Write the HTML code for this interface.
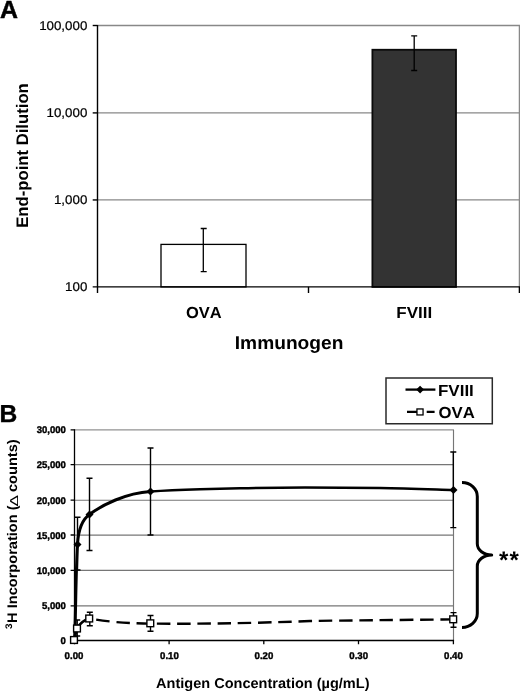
<!DOCTYPE html>
<html>
<head>
<meta charset="utf-8">
<title>Figure</title>
<style>
html,body{margin:0;padding:0;background:#fff;}
body{width:520px;height:691px;overflow:hidden;}
svg{display:block;}
text{font-family:"Liberation Sans",Arial,sans-serif;fill:#000;font-kerning:none;text-rendering:geometricPrecision;}
.b{font-weight:bold;}
</style>
</head>
<body>
<svg width="520" height="691" viewBox="0 0 520 691">
<rect x="0" y="0" width="520" height="691" fill="#ffffff"/>

<!-- ================= Panel A ================= -->
<text class="b" x="-0.1" y="17.9" font-size="24.9" stroke="#000" stroke-width="0.5">A</text>

<!-- grid / frame -->
<g stroke="#888888" stroke-width="1.3" fill="none">
  <line x1="97.5" y1="25.5" x2="520" y2="25.5"/>
  <line x1="97.5" y1="112.9" x2="520" y2="112.9"/>
  <line x1="97.5" y1="199.95" x2="520" y2="199.95"/>
  <line x1="519.4" y1="25.5" x2="519.4" y2="287"/>
</g>
<!-- bars -->
<rect x="161" y="244.4" width="85" height="42.5" fill="#ffffff" stroke="#000" stroke-width="1.3"/>
<rect x="372.4" y="49.75" width="83.6" height="237.2" fill="#333333" stroke="#0a0a0a" stroke-width="1.8"/>
<!-- axes -->
<g stroke="#000" stroke-width="1.4" fill="none">
  <line x1="97.5" y1="24.9" x2="97.5" y2="293"/>
  <line x1="92.7" y1="286.9" x2="520" y2="286.9"/>
  <line x1="92.7" y1="25.5" x2="97.5" y2="25.5"/>
  <line x1="92.7" y1="112.9" x2="97.5" y2="112.9"/>
  <line x1="92.7" y1="199.95" x2="97.5" y2="199.95"/>
  <line x1="308.5" y1="286.9" x2="308.5" y2="293"/>
  <line x1="519.4" y1="286.9" x2="519.4" y2="293"/>
</g>
<!-- error bars -->
<g stroke="#000" stroke-width="1.3" fill="none">
  <path d="M203.3 228.5V271.7M200.7 228.5H206.7M200.7 271.7H206.7"/>
  <path d="M414.2 35.8V70.5M411.2 35.8H417.2M411.2 70.5H417.2"/>
</g>
<!-- tick labels -->
<g font-size="12.7" text-anchor="end" stroke="#000" stroke-width="0.22">
  <text transform="translate(87.3 29.6) scale(1.05 1)">100,000</text>
  <text transform="translate(87.3 116.8) scale(1.05 1)">10,000</text>
  <text transform="translate(87.3 204) scale(1.05 1)">1,000</text>
  <text transform="translate(87.3 291) scale(1.05 1)">100</text>
</g>
<text class="b" font-size="16" text-anchor="middle" transform="translate(203.8 318.2) scale(1.03 1)">OVA</text>
<text class="b" font-size="16" text-anchor="middle" transform="translate(414.2 318.2) scale(1.06 1)">FVIII</text>
<text class="b" font-size="18.5" text-anchor="middle" transform="translate(289.1 349.3) scale(1.036 1)">Immunogen</text>
<text class="b" font-size="16.7" text-anchor="middle" transform="translate(27.9 155.5) rotate(-90)">End-point Dilution</text>

<!-- ================= Panel B ================= -->
<text class="b" x="-0.6" y="421.6" font-size="24.6" stroke="#000" stroke-width="0.4">B</text>

<!-- legend -->
<rect x="386" y="378" width="106.3" height="45.75" fill="#fff" stroke="#2a2a2a" stroke-width="1.5"/>
<line x1="405.5" y1="389.6" x2="435.4" y2="389.6" stroke="#000" stroke-width="2.3"/>
<path d="M420.1 385.7L424 389.6L420.1 393.5L416.2 389.6Z" fill="#000"/>
<path d="M407 411.8H417M426.7 411.8H434.6" stroke="#000" stroke-width="2.2"/>
<rect x="416.95" y="408.95" width="6.1" height="6" fill="#fff" stroke="#000" stroke-width="1.3"/>
<text class="b" font-size="16" transform="translate(438 395.6) scale(1.06 1)">FVIII</text>
<text class="b" font-size="16" transform="translate(438.6 417.6) scale(1.045 1)">OVA</text>

<!-- grid -->
<g stroke="#767676" stroke-width="1.15" fill="none">
  <line x1="74.5" y1="429.9" x2="454" y2="429.9" stroke-width="1.4" stroke="#929292"/>
  <line x1="74.5" y1="464.6" x2="454" y2="464.6"/>
  <line x1="74.5" y1="500.2" x2="454" y2="500.2"/>
  <line x1="74.5" y1="535.15" x2="454" y2="535.15"/>
  <line x1="74.5" y1="570.3" x2="454" y2="570.3"/>
  <line x1="74.5" y1="605.9" x2="454" y2="605.9"/>
  <line x1="453.5" y1="430" x2="453.5" y2="640"/>
</g>
<!-- axes -->
<g stroke="#000" stroke-width="1.3" fill="none">
  <line x1="74.5" y1="429.2" x2="74.5" y2="644.3"/>
  <line x1="70.6" y1="640.5" x2="454.1" y2="640.5"/>
  <path d="M70.6 429.9H74.5M70.6 464.6H74.5M70.6 500.2H74.5M70.6 535H74.5M70.6 570.3H74.5M70.6 605.9H74.5"/>
  <path d="M169.1 640.5V644.3M263.8 640.5V644.3M358.5 640.5V644.3M453.4 640.5V644.3"/>
</g>

<!-- FVIII error bars -->
<g stroke="#000" stroke-width="1.4" fill="none">
  <path d="M77.5 517.3V570M74.5 517.3H80.5M74.5 570H80.5"/>
  <path d="M89.5 478.2V550.5M86.5 478.2H92.5M86.5 550.5H92.5"/>
  <path d="M150.5 448V535M147.5 448H153.5M147.5 535H153.5"/>
  <path d="M453.3 452V527.6M450.3 452H456.3M450.3 527.6H456.3"/>
</g>
<!-- OVA error bars -->
<g stroke="#000" stroke-width="1.4" fill="none">
  <path d="M77.2 620V636M74.2 620H80.2M74.2 636H80.2"/>
  <path d="M89.8 612.2V625.8M86.8 612.2H92.8M86.8 625.8H92.8"/>
  <path d="M150.5 615.5V631.2M147.5 615.5H153.5M147.5 631.2H153.5"/>
  <path d="M453.5 612.6V627.3M450.5 612.6H456.5M450.5 627.3H456.5"/>
</g>

<!-- FVIII curve -->
<path d="M74.6 640 C75 630 75.4 620 75.7 600 C76.1 580 76.6 560 77.5 544.5 C78.4 528 82.2 519.5 89.5 514.5 C102 505 126 493 150.5 491.5" fill="none" stroke="#000" stroke-width="3" stroke-linejoin="round"/>
<path d="M150.5 491.5 C168 490.4 185 489.8 200 489.3 C215 488.8 228 488.5 240 488.3 C262 487.8 280 487.5 305 487.5 C335 487.5 360 487.7 380 488 C405 488.4 430 489.3 453.5 490" fill="none" stroke="#000" stroke-width="2.4" stroke-linejoin="round"/>
<g fill="#000">
  <path d="M77.5 540.5L81.5 544.5L77.5 548.5L73.5 544.5Z"/>
  <path d="M89.5 510.5L93.5 514.5L89.5 518.5L85.5 514.5Z"/>
  <path d="M150.5 487.5L154.5 491.5L150.5 495.5L146.5 491.5Z"/>
  <path d="M453.5 486L457.5 490L453.5 494L449.5 490Z"/>
</g>

<!-- OVA line -->
<path d="M74 640L77 628.5C80 623 84 620 89.5 618.5" fill="none" stroke="#000" stroke-width="2.6"/>
<path d="M89.5 618.5C105 621.5 125 623.3 150.5 623.6C195 624 250 623.4 310 621C345 620.4 400 620 453.5 619.4" fill="none" stroke="#000" stroke-width="2.4" stroke-dasharray="13.5 6.75" stroke-dashoffset="13.25"/>
<g fill="#fff" stroke="#000" stroke-width="1.4">
  <rect x="70.6" y="636.6" width="6.8" height="6.8"/>
  <rect x="73.6" y="625.1" width="6.8" height="6.8"/>
  <rect x="85.8" y="615.1" width="6.8" height="6.8"/>
  <rect x="146.9" y="619.9" width="6.8" height="6.8"/>
  <rect x="449.8" y="615.9" width="6.8" height="6.8"/>
</g>

<!-- brace -->
<path d="M462 482.6A15.3 14 0 0 1 477.3 496.6V543.8A14.4 11.2 0 0 0 491.7 555A14.4 11.2 0 0 0 477.3 566.2V613.5A15.3 14 0 0 1 462 627.5" fill="none" stroke="#000" stroke-width="3" stroke-linecap="butt" stroke-linejoin="round"/>
<text class="b" font-size="24" x="499.1" y="568.2" textLength="19.8" lengthAdjust="spacing">**</text>

<!-- tick labels -->
<g class="b" font-size="9.7" text-anchor="end" stroke="#000" stroke-width="0.4">
  <text transform="translate(65.9 433.4) scale(0.985 1)">30,000</text>
  <text transform="translate(65.9 468.1) scale(0.985 1)">25,000</text>
  <text transform="translate(65.9 503.7) scale(0.985 1)">20,000</text>
  <text transform="translate(65.9 538.5) scale(0.985 1)">15,000</text>
  <text transform="translate(65.9 573.8) scale(0.985 1)">10,000</text>
  <text transform="translate(65.9 609.4) scale(0.985 1)">5,000</text>
  <text transform="translate(65.9 644.4) scale(0.985 1)">0</text>
</g>
<g class="b" font-size="9.8" text-anchor="middle" stroke="#000" stroke-width="0.4">
  <text transform="translate(74.0 658.9) scale(0.985 1)">0.00</text>
  <text transform="translate(169.4 658.9) scale(0.985 1)">0.10</text>
  <text transform="translate(263.9 658.9) scale(0.985 1)">0.20</text>
  <text transform="translate(358.7 658.9) scale(0.985 1)">0.30</text>
  <text transform="translate(453.4 658.9) scale(0.985 1)">0.40</text>
</g>
<text class="b" font-size="14.2" x="156" y="687.6" textLength="213.5" lengthAdjust="spacingAndGlyphs">Antigen Concentration (µg/mL)</text>
<g class="b" font-size="13.9">
  <text font-size="9.5" transform="translate(12.4 629) rotate(-90) scale(1.05 1)">3</text>
  <text transform="translate(17.3 622.9) rotate(-90) scale(1.05 1)">H Incorporation (</text>
  <text font-size="11.5" font-weight="normal" transform="translate(17.5 506.4) rotate(-90) scale(1.5 1)">Δ</text>
  <text transform="translate(17.3 492) rotate(-90) scale(1.05 1)">counts)</text>
</g>
</svg>
</body>
</html>
